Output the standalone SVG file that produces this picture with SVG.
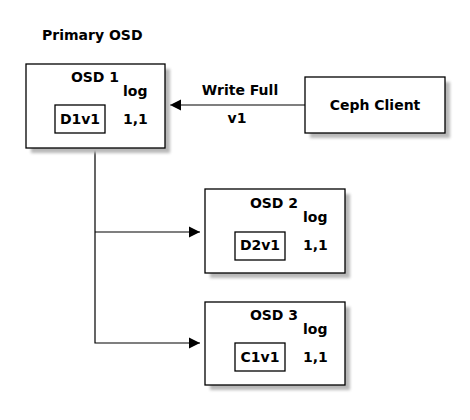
<svg xmlns="http://www.w3.org/2000/svg" width="470" height="420" viewBox="0 0 470 420">
<defs>
<filter id="sh" x="-20%" y="-20%" width="140%" height="140%"><feGaussianBlur stdDeviation="1.5"/></filter>
<marker id="ah" viewBox="0 0 10 10" refX="10" refY="5" markerWidth="11" markerHeight="12" markerUnits="userSpaceOnUse" orient="auto"><path d="M0,0 L10,5 L0,10 Z" fill="#000"/></marker>
</defs>
<style>
.box{fill:#fff;stroke:#000;stroke-width:1.3}
.shadow{fill:#b8b8b8;filter:url(#sh)}
.t{font-family:"DejaVu Sans",sans-serif;font-weight:bold;font-size:14px;fill:#000}
.c{text-anchor:middle}
.ln{fill:none;stroke:#000;stroke-width:1.2}
</style>
<rect width="470" height="420" fill="#fff"/>
<text class="t" x="42" y="40">Primary OSD</text>
<g id="connectors">
<line class="ln" x1="305" y1="105" x2="170" y2="105" marker-end="url(#ah)"/>
<polyline class="ln" points="95,148 95,343 200,343" marker-end="url(#ah)"/>
<line class="ln" x1="95" y1="232" x2="200" y2="232" marker-end="url(#ah)"/>
<text class="t c" x="240" y="95">Write Full</text>
<text class="t c" x="237" y="123">v1</text>
</g>
<g id="osd1">
<rect class="shadow" x="31" y="69" width="139" height="84"/>
<rect class="box" x="26" y="64" width="139" height="84"/>
<text class="t c" x="95" y="82">OSD 1</text>
<text class="t" x="123" y="96">log</text>
<rect class="box" x="55" y="105" width="50" height="28"/>
<text class="t c" x="80" y="124">D1v1</text>
<text class="t" x="123" y="124">1,1</text>
</g>
<g id="client">
<rect class="shadow" x="310" y="82" width="140" height="56"/>
<rect class="box" x="305" y="77" width="140" height="56"/>
<text class="t c" x="375" y="110">Ceph Client</text>
</g>
<g id="osd2">
<rect class="shadow" x="210" y="194" width="140" height="84"/>
<rect class="box" x="205" y="189" width="140" height="84"/>
<text class="t c" x="274" y="208">OSD 2</text>
<text class="t" x="303" y="222">log</text>
<rect class="box" x="235" y="232" width="50" height="28"/>
<text class="t c" x="260" y="250">D2v1</text>
<text class="t" x="303" y="250">1,1</text>
</g>
<g id="osd3">
<rect class="shadow" x="210" y="307" width="140" height="83"/>
<rect class="box" x="205" y="302" width="140" height="83"/>
<text class="t c" x="274" y="320">OSD 3</text>
<text class="t" x="303" y="334">log</text>
<rect class="box" x="235" y="343" width="50" height="28"/>
<text class="t c" x="260" y="362">C1v1</text>
<text class="t" x="303" y="362">1,1</text>
</g>
</svg>
